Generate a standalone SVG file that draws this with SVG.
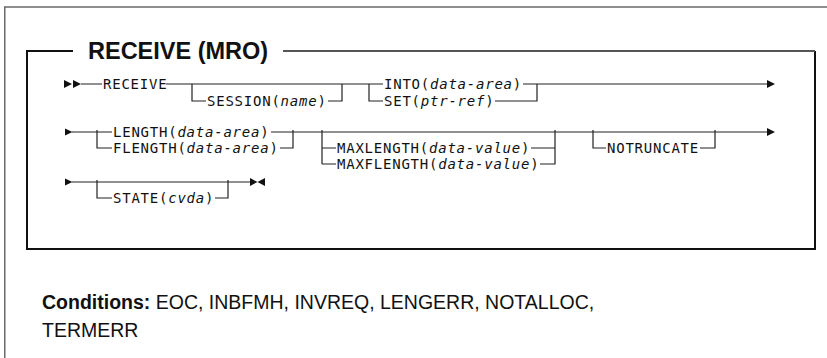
<svg xmlns="http://www.w3.org/2000/svg" width="827" height="358" viewBox="0 0 827 358">
<style>
.frame{fill:none;stroke:#6a6a6a;stroke-width:1.5}
.inner{fill:none;stroke:#111;stroke-width:2}
.gline{fill:none;stroke:#555;stroke-width:2}
.ln{fill:none;stroke:#222;stroke-width:1.2}
.ah{fill:#111}
.kw{font-family:"DejaVu Sans Mono",monospace;font-size:14px;letter-spacing:0.77px;fill:#111}
.it{font-style:italic}
.title{font-family:"Liberation Sans",Arial,sans-serif;font-weight:bold;font-size:23.5px;fill:#111}
.cond{font-family:"Liberation Sans",Arial,sans-serif;font-size:19.5px;fill:#111}
</style>
<rect width="827" height="358" fill="#fff"/>
<g id="outer-frame">
<path class="frame" d="M4.75,360 V7 H830"/>
</g>
<g id="inner-frame">
<path class="inner" d="M73,51 H27 V249 H815 V51"/>
<path class="gline" d="M283,51 H815"/>
</g>
<g id="title"><text class="title" x="88" y="59">RECEIVE (MRO)</text></g>

<g id="connectors">
<polygon class="ah" points="64,80 72,84 64,88"/>
<polygon class="ah" points="73,80 81,84 73,88"/>
<path class="ln" d="M81,84 H102 M166,84 H383 M192,84 V101 H206 M328,101 H342 V84 M369,84 V101 H383 M495,101 H537 V84 M523,84 H768"/>
<polygon class="ah" points="767,80 775,84 767,88"/>

<polygon class="ah" points="65,128.5 72.5,132 65,135.5"/>
<path class="ln" d="M72,132 H112 M97,130 V148 H112 M271,132 H768 M280,148 H293 V130 M322,130 V164 M322,148 H336 M322,164 H336 M531,148 H555 M540,164 H555 V130 M593,130 V148 H606 M700,148 H715 V130"/>
<polygon class="ah" points="767,128 775,132 767,136"/>

<polygon class="ah" points="65,178.5 72.5,182 65,185.5"/>
<path class="ln" d="M72,182 H250 M97,180 V198 H112 M215,198 H228 V180"/>
<polygon class="ah" points="250,178 257.5,182 250,186"/>
<polygon class="ah" points="265,178 257.5,182 265,186"/>
</g>

<g id="n-receive"><text class="kw" x="103" y="89">RECEIVE</text></g>
<g id="n-session"><text class="kw" x="207" y="106">SESSION(<tspan class="it">name</tspan>)</text></g>
<g id="n-into"><text class="kw" x="384" y="89">INTO(<tspan class="it">data-area</tspan>)</text></g>
<g id="n-set"><text class="kw" x="384" y="106">SET(<tspan class="it">ptr-ref</tspan>)</text></g>
<g id="n-length"><text class="kw" x="113" y="137">LENGTH(<tspan class="it">data-area</tspan>)</text></g>
<g id="n-flength"><text class="kw" x="113" y="153">FLENGTH(<tspan class="it">data-area</tspan>)</text></g>
<g id="n-maxlength"><text class="kw" x="337" y="153">MAXLENGTH(<tspan class="it">data-value</tspan>)</text></g>
<g id="n-maxflength"><text class="kw" x="337" y="169">MAXFLENGTH(<tspan class="it">data-value</tspan>)</text></g>
<g id="n-notruncate"><text class="kw" x="607" y="153">NOTRUNCATE</text></g>
<g id="n-state"><text class="kw" x="113" y="203">STATE(<tspan class="it">cvda</tspan>)</text></g>

<g id="conditions">
<text class="cond" x="42" y="309"><tspan font-weight="bold">Conditions:</tspan> EOC, INBFMH, INVREQ, LENGERR, NOTALLOC,</text>
<text class="cond" x="42" y="337">TERMERR</text>
</g>
</svg>
